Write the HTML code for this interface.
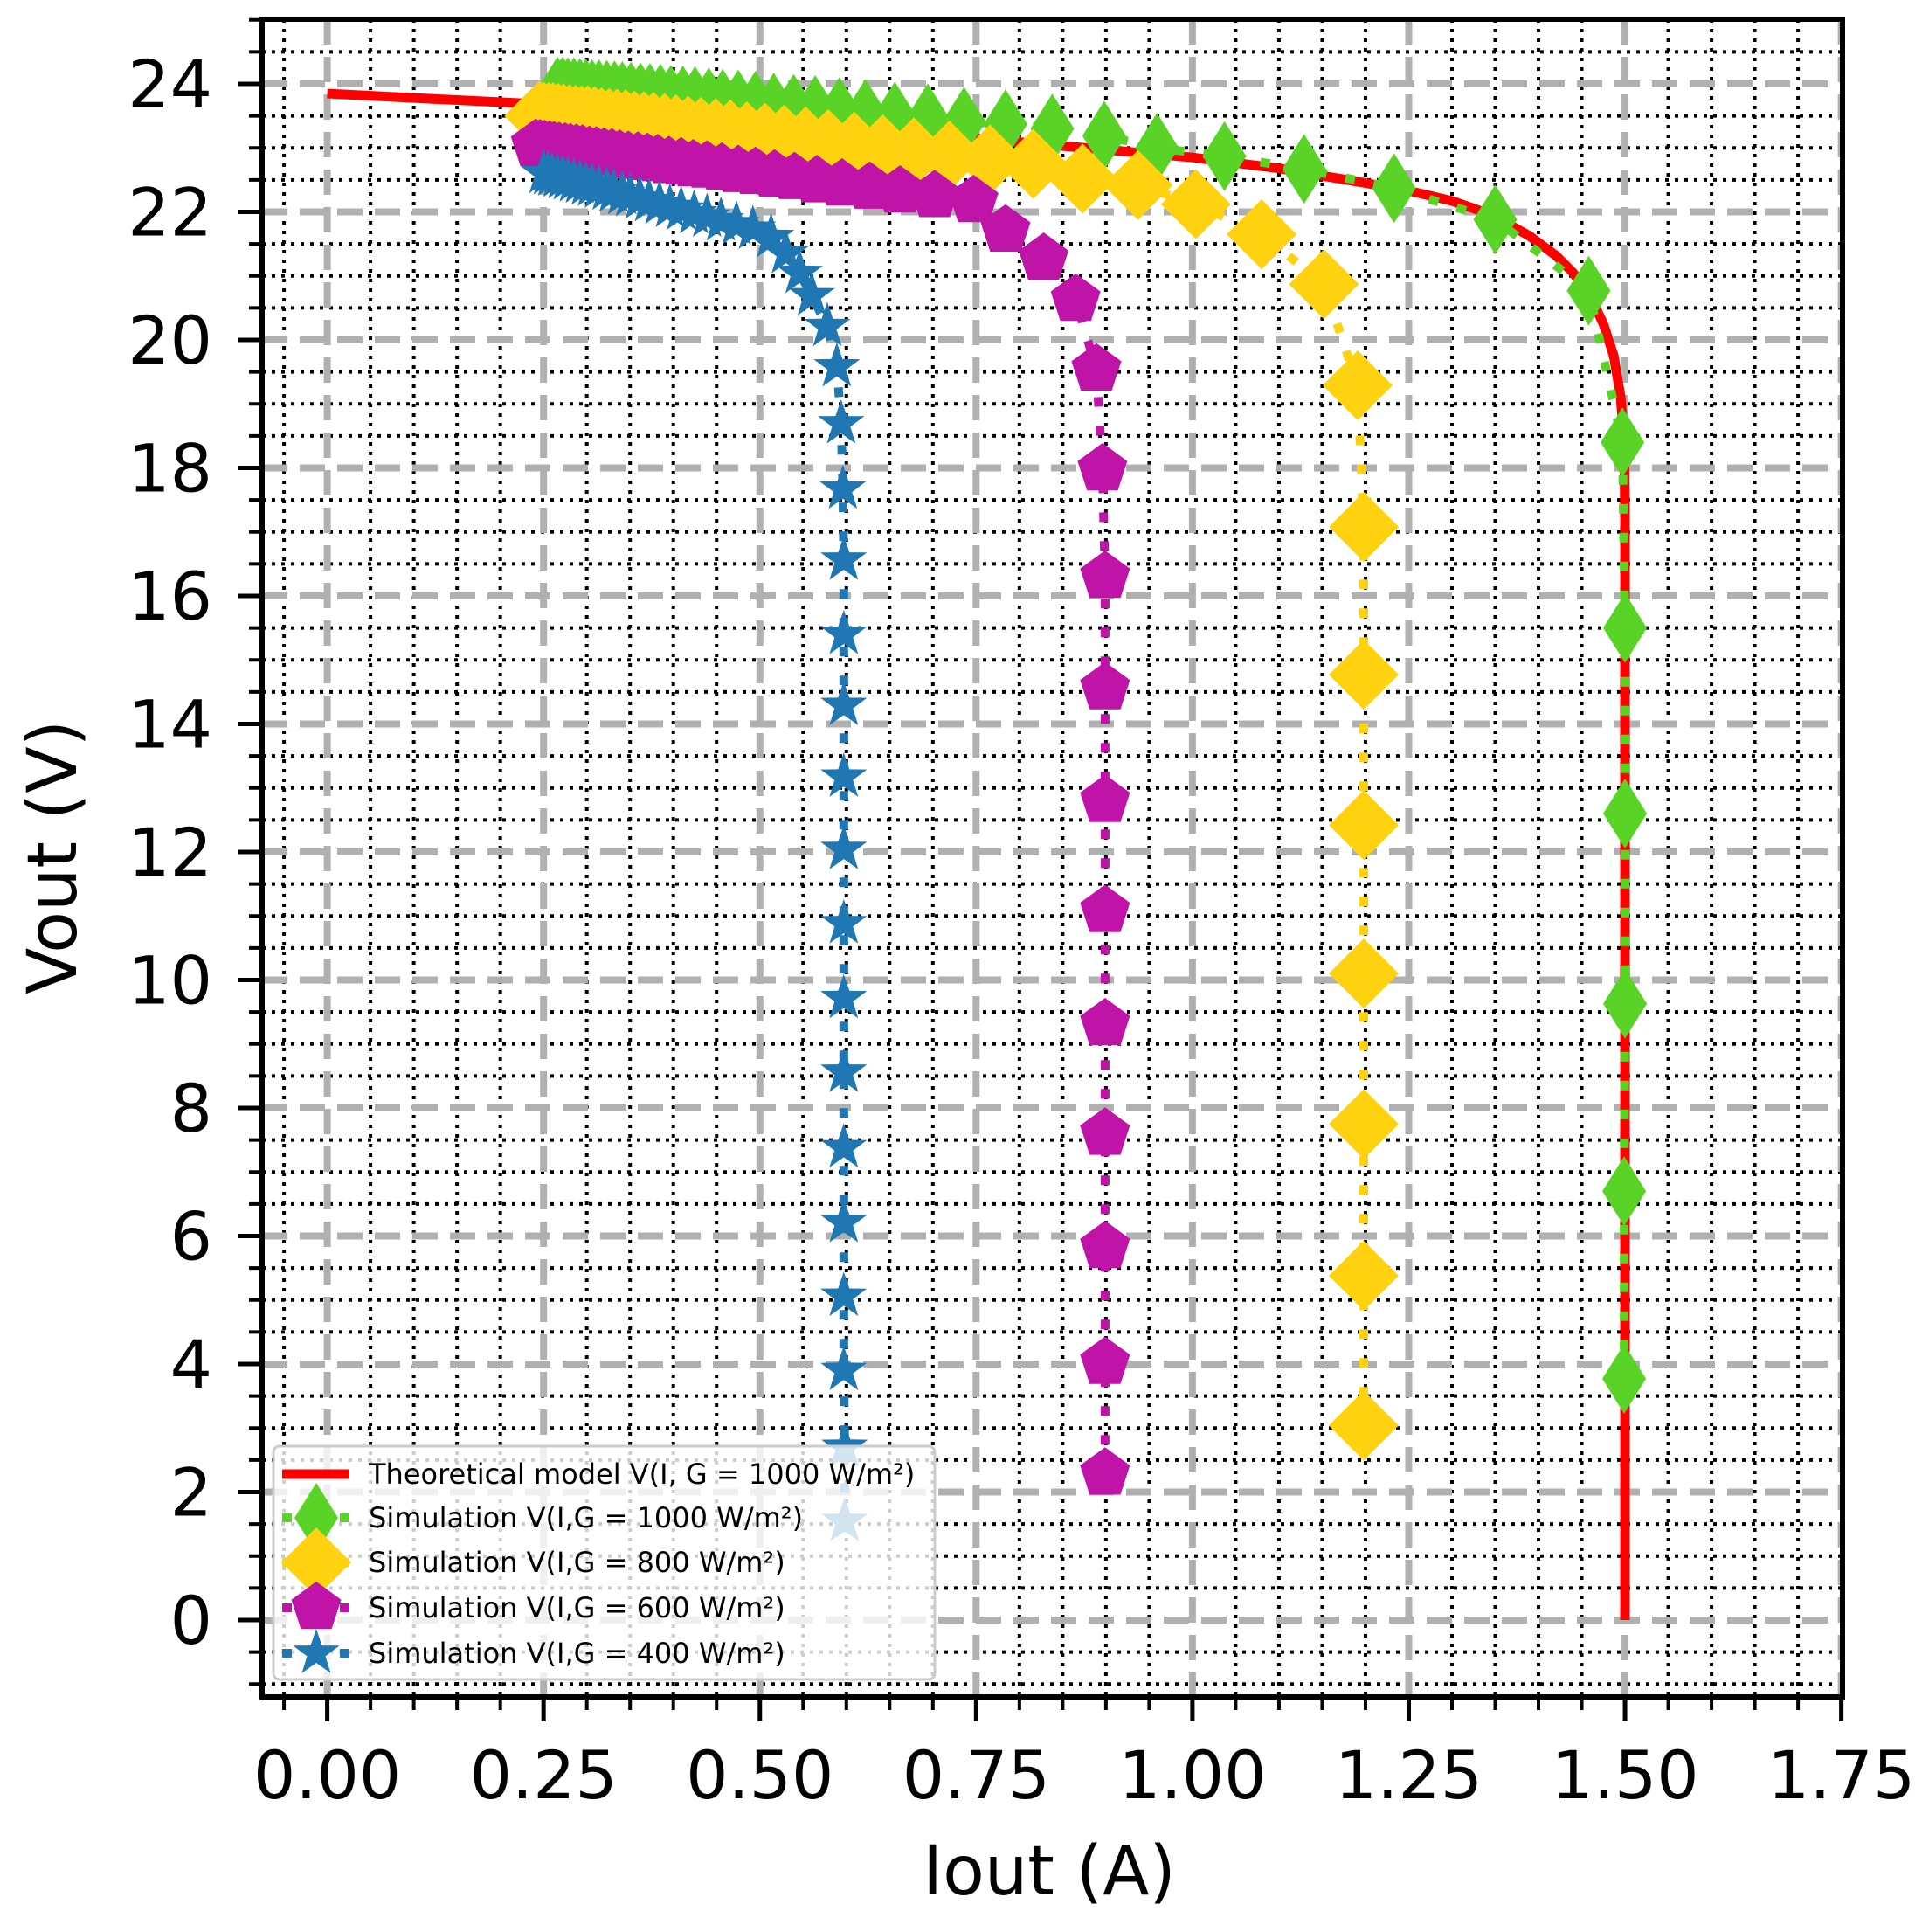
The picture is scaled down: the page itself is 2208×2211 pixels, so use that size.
<!DOCTYPE html>
<html><head><meta charset="utf-8"><style>
html,body{margin:0;padding:0;background:#fff}
svg{display:block}
text{font-family:"DejaVu Sans","Liberation Sans",sans-serif;fill:#000}
</style></head><body>
<svg id="chart" width="2208" height="2211" viewBox="0 0 2208 2211" xmlns="http://www.w3.org/2000/svg">
<rect width="2208" height="2211" fill="#fff"/>
<g id="grid"></g>
<g id="series"></g>
<g id="axes"></g>
<g id="legend"></g>
</svg>
<script>
// ---- data ----
const xTicks = [0, 0.25, 0.5, 0.75, 1.0, 1.25, 1.5, 1.75];
const xTickLabels = ["0.00","0.25","0.50","0.75","1.00","1.25","1.50","1.75"];
const yTicks = [0,2,4,6,8,10,12,14,16,18,20,22,24];
const yTickLabels = ["0","2","4","6","8","10","12","14","16","18","20","22","24"];

const theoryI = [0,0.1,0.25,0.5,0.75,0.9,1.0,1.1,1.2,1.25,1.3,1.33,1.36,1.39,1.42,1.44,1.46,1.475,1.487,1.495,1.499,1.5,1.5];
const theoryV = [23.85,23.78,23.68,23.45,23.15,22.97,22.85,22.68,22.45,22.33,22.17,22.03,21.85,21.62,21.32,21.05,20.68,20.25,19.75,19.1,18.4,17.3,0];

const g1000I = [1.499,1.499,1.5,1.5,1.5,1.497,1.458,1.35,1.233,1.129,1.037,0.959,0.898,0.838,0.784,0.736,0.694,0.656,0.622,0.592,0.564,0.539,0.516,0.495,0.475,0.457,0.441,0.425,0.411,0.397,0.385,0.373,0.362,0.351,0.341,0.332,0.323,0.314,0.306,0.299,0.292,0.285,0.278,0.272,0.266];
const g1000V = [3.77,6.7,9.63,12.6,15.5,18.4,20.77,21.88,22.37,22.67,22.87,23.0,23.19,23.3,23.37,23.41,23.46,23.49,23.53,23.56,23.59,23.61,23.63,23.66,23.68,23.69,23.71,23.73,23.74,23.75,23.77,23.78,23.79,23.8,23.81,23.82,23.83,23.84,23.84,23.85,23.86,23.87,23.87,23.88,23.88];

const g800I = [1.198,1.198,1.198,1.198,1.198,1.198,1.198,1.191,1.152,1.08,1.004,0.937,0.873,0.816,0.766,0.719,0.678,0.642,0.609,0.579,0.553,0.528,0.506,0.485,0.466,0.449,0.432,0.417,0.403,0.39,0.377,0.366,0.355,0.345,0.335,0.326,0.317,0.309,0.301,0.294,0.287,0.28,0.273,0.267,0.261,0.256,0.25,0.245];
const g800V = [3.04,5.38,7.75,10.1,12.42,14.77,17.08,19.29,20.87,21.65,22.12,22.42,22.52,22.75,22.82,22.88,22.93,22.98,23.02,23.06,23.1,23.13,23.16,23.18,23.21,23.23,23.25,23.27,23.29,23.31,23.33,23.34,23.35,23.37,23.38,23.39,23.4,23.42,23.43,23.43,23.44,23.45,23.46,23.47,23.48,23.48,23.49,23.5];

const g600I = [0.899,0.899,0.899,0.899,0.899,0.899,0.899,0.899,0.899,0.896,0.889,0.865,0.828,0.784,0.747,0.702,0.662,0.627,0.595,0.566,0.54,0.517,0.495,0.475,0.456,0.439,0.423,0.409,0.395,0.382,0.37,0.359,0.348,0.338,0.329,0.32,0.311,0.303,0.295,0.288,0.281,0.275,0.268,0.262,0.257,0.251,0.246,0.241];
const g600V = [2.29,4.02,5.83,7.6,9.31,11.08,12.8,14.56,16.3,17.98,19.54,20.63,21.27,21.71,22.17,22.25,22.32,22.38,22.43,22.48,22.53,22.57,22.61,22.64,22.68,22.71,22.73,22.76,22.78,22.81,22.83,22.85,22.86,22.88,22.9,22.91,22.93,22.94,22.96,22.97,22.98,22.99,23.0,23.01,23.02,23.03,23.04,23.05];

const g400I = [0.598,0.598,0.597,0.597,0.597,0.597,0.597,0.597,0.597,0.597,0.597,0.597,0.597,0.597,0.596,0.594,0.589,0.578,0.56,0.546,0.53,0.513,0.492,0.473,0.455,0.439,0.424,0.409,0.396,0.384,0.372,0.361,0.35,0.341,0.331,0.323,0.314,0.306,0.299,0.292,0.285,0.278,0.272,0.266,0.26,0.255,0.25];
const g400V = [1.54,2.7,3.9,5.06,6.21,7.38,8.56,9.71,10.88,12.04,13.17,14.29,15.4,16.56,17.67,18.69,19.58,20.21,20.69,21.04,21.35,21.6,21.73,21.8,21.86,21.92,21.97,22.03,22.07,22.12,22.16,22.2,22.24,22.27,22.31,22.34,22.37,22.4,22.42,22.45,22.47,22.5,22.52,22.54,22.56,22.58,22.6];

const legendLabels = ["Theoretical model V(I, G = 1000 W/m\u00b2)","Simulation V(I,G = 1000 W/m\u00b2)","Simulation V(I,G = 800 W/m\u00b2)","Simulation V(I,G = 600 W/m\u00b2)","Simulation V(I,G = 400 W/m\u00b2)"];

// ---- scales ----
const X0=374.6, XS=990.3, Y0=1854, YS=73.25;
const L=300, R=2109, T=22, B=1942;
function X(v){return X0+v*XS;}
function Y(v){return Y0-v*YS;}
const NS="http://www.w3.org/2000/svg";
function mk(tag, attrs, parent){const e=document.createElementNS(NS,tag);for(const k in attrs)e.setAttribute(k,attrs[k]);parent.appendChild(e);return e;}

const grid=document.getElementById('grid');
const series=document.getElementById('series');
const axes=document.getElementById('axes');
const legend=document.getElementById('legend');

// minor grid
for(let k=-1;k<=35;k++){
  if(k%5===0) continue;
  const x=X(k*0.05); if(x<L||x>R) continue;
  const ln=mk('line',{x1:x,y1:T,x2:x,y2:B,stroke:'#000','stroke-width':4,'stroke-dasharray':'4 7'},grid);
  
  
}
for(let k=-2;k<=50;k++){
  if(k%4===0) continue;
  const y=Y(k*0.5); if(y<T||y>B) continue;
  const ln=mk('line',{x1:L,y1:y,x2:R,y2:y,stroke:'#000','stroke-width':4,'stroke-dasharray':'4 7'},grid);
  
  
}
xTicks.forEach(v=>{
  const ln=mk('line',{x1:X(v),y1:T,x2:X(v),y2:B,stroke:'#b0b0b0','stroke-width':8,'stroke-dasharray':'29 14'},grid);
  
  
});
yTicks.forEach(v=>{
  const ln=mk('line',{x1:L,y1:Y(v),x2:R,y2:Y(v),stroke:'#b0b0b0','stroke-width':8,'stroke-dasharray':'29 14'},grid);
  
  
});

// markers
function markerPath(shape,cx,cy,s){
  if(shape==='d'){return `M${cx},${cy-40*s}L${cx+25*s},${cy}L${cx},${cy+40*s}L${cx-25*s},${cy}Z`;}
  if(shape==='D'){return `M${cx},${cy-40*s}L${cx+40*s},${cy}L${cx},${cy+40*s}L${cx-40*s},${cy}Z`;}
  if(shape==='p'){let p='';for(let i=0;i<5;i++){const a=-Math.PI/2+i*2*Math.PI/5;p+=(i?'L':'M')+(cx+30*s*Math.cos(a)).toFixed(1)+','+(cy+30*s*Math.sin(a)).toFixed(1);}return p+'Z';}
  if(shape==='*'){let p='';for(let i=0;i<10;i++){const a=-Math.PI/2+i*Math.PI/5;const r=(i%2?11:28)*s;p+=(i?'L':'M')+(cx+r*Math.cos(a)).toFixed(1)+','+(cy+r*Math.sin(a)).toFixed(1);}return p+'Z';}
}
function drawSeries(name,xs,ys,color,shape){
  const g=mk('g',{},series);
  
  
  const pts=xs.map((x,i)=>X(x).toFixed(1)+','+Y(ys[i]).toFixed(1)).join(' ');
  const pl=mk('polyline',{points:pts,fill:'none',stroke:color,'stroke-width':10,'stroke-dasharray':'11 22'},g);
  
  
  xs.forEach((x,i)=>{
    const m=mk('path',{d:markerPath(shape,X(x),Y(ys[i]),1),fill:color},g);
    
    
  });
}
// theory
const th=mk('polyline',{points:theoryI.map((x,i)=>X(x).toFixed(1)+','+Y(theoryV[i]).toFixed(1)).join(' '),fill:'none',stroke:'#ff0000','stroke-width':11,'stroke-linejoin':'round'},series);


drawSeries('sim-1000',g1000I,g1000V,'#59d426','d');
drawSeries('sim-800',g800I,g800V,'#ffd20f','D');
drawSeries('sim-600',g600I,g600V,'#c014a8','p');
drawSeries('sim-400',g400I,g400V,'#1f77b4','*');

// axes spines
const sp=mk('rect',{x:L,y:T,width:R-L,height:B-T,fill:'none',stroke:'#000','stroke-width':6},axes);


// ticks
for(let k=-1;k<=35;k++){
  const x=X(k*0.05); if(x<L-1||x>R+1) continue;
  const major=k%5===0;
  const t=mk('line',{x1:x,y1:B,x2:x,y2:B+(major?28:15),stroke:'#000','stroke-width':major?5:4},axes);
  
  
}
for(let k=-2;k<=50;k++){
  const y=Y(k*0.5); if(y<T-1||y>B+1) continue;
  const major=k%4===0;
  const t=mk('line',{x1:L,y1:y,x2:L-(major?28:15),y2:y,stroke:'#000','stroke-width':major?5:4},axes);
  
  
}
xTicks.forEach((v,i)=>{
  const t=mk('text',{x:X(v),y:2058,'text-anchor':'middle','font-size':76},axes);
  t.textContent=xTickLabels[i];
  
  
});
yTicks.forEach((v,i)=>{
  const t=mk('text',{x:243,y:Y(v)+27,'text-anchor':'end','font-size':76},axes);
  t.textContent=yTickLabels[i];
  
  
});
const xl=mk('text',{x:1201,y:2168,'text-anchor':'middle','font-size':78},axes);
xl.textContent='Iout (A)';


const yl=mk('text',{x:0,y:0,'text-anchor':'middle','font-size':78,transform:'translate(87,981) rotate(-90)'},axes);
yl.textContent='Vout (V)';



// legend
const lb=mk('rect',{x:313,y:1655,width:757,height:267,rx:7,fill:'rgba(255,255,255,0.8)',stroke:'#cccccc','stroke-width':3},legend);


const legColors=['#ff0000','#59d426','#ffd20f','#c014a8','#1f77b4'];
const legShapes=[null,'d','D','p','*'];
const legY=[1687,1737,1788,1840,1892];
legendLabels.forEach((lab,i)=>{
  const g=mk('g',{},legend);
  
  
  if(i===0){
    mk('line',{x1:323,y1:legY[i],x2:400,y2:legY[i],stroke:legColors[i],'stroke-width':11},g);
  } else {
    mk('line',{x1:323,y1:legY[i],x2:400,y2:legY[i],stroke:legColors[i],'stroke-width':10,'stroke-dasharray':'11 22'},g);
    mk('path',{d:markerPath(legShapes[i],362,legY[i],1),fill:legColors[i]},g);
  }
  const t=mk('text',{x:422,y:legY[i]+11,'font-size':32},g);
  t.textContent=lab;
});
</script>
</body></html>
